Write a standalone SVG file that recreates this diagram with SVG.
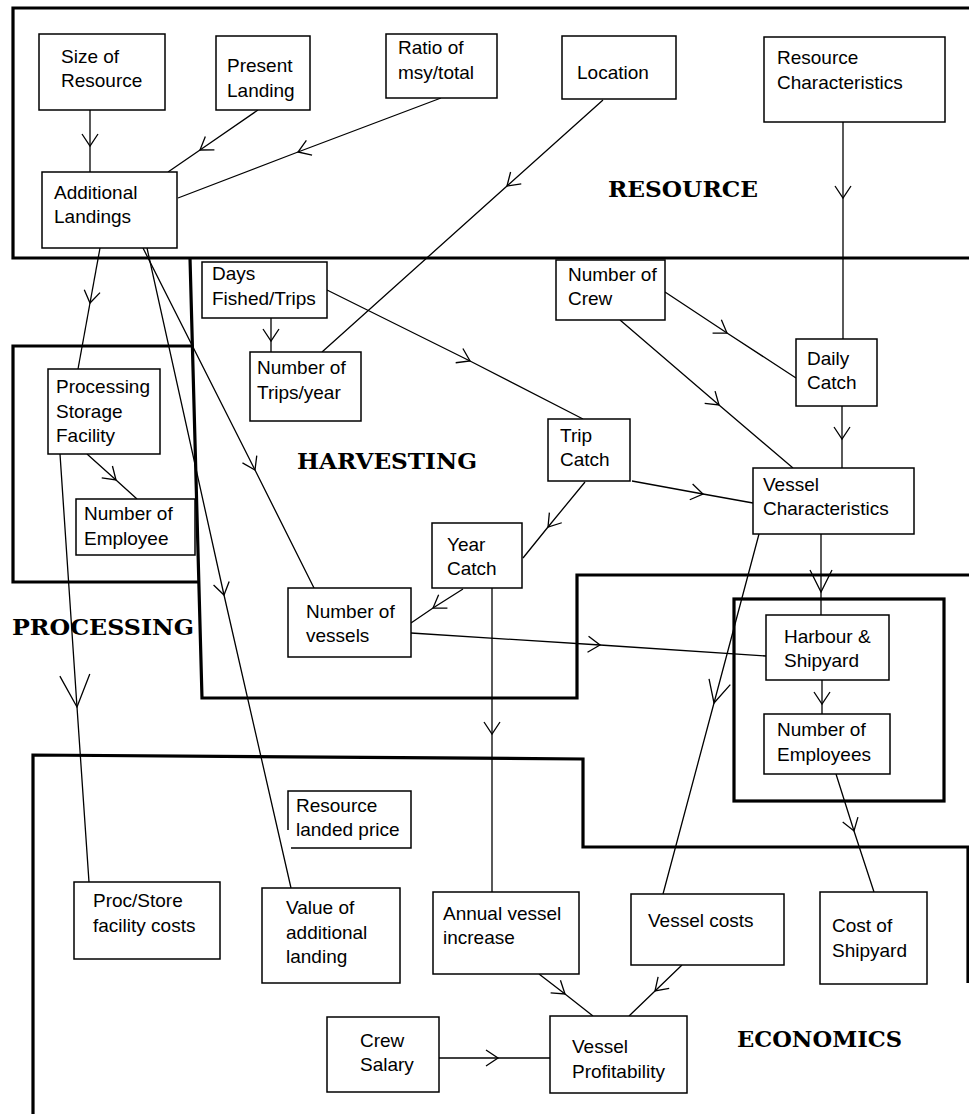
<svg xmlns="http://www.w3.org/2000/svg" width="969" height="1114" viewBox="0 0 969 1114">
<style>
.box{fill:#fff;stroke:#000;stroke-width:1.5}
.t{font-family:"Liberation Sans",Arial,sans-serif;font-size:19px;fill:#000}
.region{fill:none;stroke:#000;stroke-width:3.2}
.lbl{font-family:"DejaVu Serif","Liberation Serif",serif;font-weight:bold;font-size:23px;fill:#000}
.c{fill:none;stroke:#000;stroke-width:1.3;marker-mid:url(#arr)}
.cm{fill:none;stroke:#000;stroke-width:1.3;marker-mid:url(#arrMed)}
.cb{fill:none;stroke:#000;stroke-width:1.3;marker-mid:url(#arrBig)}
</style>
<defs>
<marker id="arr" markerUnits="userSpaceOnUse" orient="auto" markerWidth="40" markerHeight="40" refX="0" refY="0" viewBox="-20 -20 40 40" overflow="visible"><path d="M-12,-8 L0,0 L-12,8" fill="none" stroke="#000" stroke-width="1.3"/></marker>
<marker id="arrMed" markerUnits="userSpaceOnUse" orient="auto" markerWidth="60" markerHeight="60" refX="0" refY="0" viewBox="-30 -30 60 60" overflow="visible"><path d="M-22,-11 L0,0 L-22,11" fill="none" stroke="#000" stroke-width="1.3"/></marker>
<marker id="arrBig" markerUnits="userSpaceOnUse" orient="auto" markerWidth="80" markerHeight="80" refX="0" refY="0" viewBox="-40 -40 80 80" overflow="visible"><path d="M-32,-15 L0,0 L-32,15" fill="none" stroke="#000" stroke-width="1.3"/></marker>
</defs>
<rect width="969" height="1114" fill="#fff"/>

<g id="regions">
<path class="region" d="M972,8 H13 V258 H972"/>
<path class="region" d="M190,258 L202,698 H577 V575 H972"/>
<path class="region" d="M192,346 H13 V582 H199"/>
<rect class="region" x="734" y="599" width="210" height="202"/>
<path class="region" d="M968,983 V847 H583 V759 L33,755 V1116"/>
<text class="lbl" x="608" y="197" textLength="150" lengthAdjust="spacingAndGlyphs">RESOURCE</text>
<text class="lbl" x="297" y="469" textLength="180" lengthAdjust="spacingAndGlyphs">HARVESTING</text>
<text class="lbl" x="12" y="635" textLength="182" lengthAdjust="spacingAndGlyphs">PROCESSING</text>
<text class="lbl" x="737" y="1047" textLength="165" lengthAdjust="spacingAndGlyphs">ECONOMICS</text>
</g>

<g id="connectors">
<path class="c" d="M90,110 L90,146 L90,172"/>
<path class="c" d="M258,110 L200,150 L168,172"/>
<path class="c" d="M441,98 L298,152 L178,198"/>
<path class="c" d="M603,100 L507,186 L322,352"/>
<path class="c" d="M843,122 L843,198 L843,339"/>
<path class="c" d="M100,248 L90,303 L78,369"/>
<path class="c" d="M143,248 L255,470 L315,590"/>
<path class="c" d="M147,248 L224,595 L291,888"/>
<path class="c" d="M271,318 L271,341 L271,352"/>
<path class="c" d="M327,290 L470,361 L583,419"/>
<path class="c" d="M87,454 L116,480 L137,499"/>
<path class="cb" d="M60,454 L77,707 L89,882"/>
<path class="c" d="M665,292 L727,333 L796,378"/>
<path class="c" d="M620,320 L719,405 L793,468"/>
<path class="c" d="M842,406 L842,439 L842,468"/>
<path class="c" d="M632,481 L703,494 L753,503"/>
<path class="c" d="M585,482 L548,527 L523,558"/>
<path class="c" d="M463,589 L433,608 L411,623"/>
<path class="c" d="M411,633 L600,645 L766,656"/>
<path class="c" d="M492,588 L492,734 L492,892"/>
<path class="cm" d="M821,534 L821,592 L821,615"/>
<path class="cm" d="M759,534 L714,703 L663,894"/>
<path class="c" d="M822,680 L822,704 L822,714"/>
<path class="c" d="M836,774 L854,831 L874,892"/>
<path class="c" d="M539,974 L565,994 L593,1016"/>
<path class="c" d="M682,965 L655,991 L629,1016"/>
<path class="c" d="M439,1058 L498,1058 L550,1058"/>
</g>

<g id="size-of-resource"><rect class="box" x="39" y="34" width="126" height="76"/><text class="t"><tspan x="61" y="63">Size of</tspan><tspan x="61" y="87">Resource</tspan></text></g>
<g id="present-landing"><rect class="box" x="216" y="36" width="94" height="74"/><text class="t"><tspan x="227" y="72">Present</tspan><tspan x="227" y="97">Landing</tspan></text></g>
<g id="ratio-msy"><rect class="box" x="386" y="34" width="111" height="64"/><text class="t"><tspan x="398" y="54">Ratio of</tspan><tspan x="398" y="79">msy/total</tspan></text></g>
<g id="location"><rect class="box" x="562" y="36" width="114" height="63"/><text class="t" x="577" y="79">Location</text></g>
<g id="resource-characteristics"><rect class="box" x="764" y="37" width="181" height="85"/><text class="t"><tspan x="777" y="64">Resource</tspan><tspan x="777" y="89">Characteristics</tspan></text></g>
<g id="additional-landings"><rect class="box" x="42" y="172" width="135" height="76"/><text class="t"><tspan x="54" y="199">Additional</tspan><tspan x="54" y="223">Landings</tspan></text></g>
<g id="days-fished"><rect class="box" x="202" y="262" width="125" height="56"/><text class="t"><tspan x="212" y="280">Days</tspan><tspan x="212" y="305">Fished/Trips</tspan></text></g>
<g id="number-of-crew"><rect class="box" x="556" y="260" width="109" height="60"/><text class="t"><tspan x="568" y="281">Number of</tspan><tspan x="568" y="305">Crew</tspan></text></g>
<g id="number-of-trips"><rect class="box" x="250" y="352" width="111" height="69"/><text class="t"><tspan x="257" y="374">Number of</tspan><tspan x="257" y="399">Trips/year</tspan></text></g>
<g id="daily-catch"><rect class="box" x="796" y="339" width="81" height="67"/><text class="t"><tspan x="807" y="365">Daily</tspan><tspan x="807" y="389">Catch</tspan></text></g>
<g id="processing-storage"><rect class="box" x="48" y="369" width="112" height="85"/><text class="t"><tspan x="56" y="393">Processing</tspan><tspan x="56" y="418">Storage</tspan><tspan x="56" y="442">Facility</tspan></text></g>
<g id="trip-catch"><rect class="box" x="548" y="419" width="82" height="62"/><text class="t"><tspan x="560" y="442">Trip</tspan><tspan x="560" y="466">Catch</tspan></text></g>
<g id="vessel-characteristics"><rect class="box" x="753" y="468" width="161" height="66"/><text class="t"><tspan x="763" y="491">Vessel</tspan><tspan x="763" y="515">Characteristics</tspan></text></g>
<g id="number-of-employee"><rect class="box" x="76" y="499" width="119" height="56"/><text class="t"><tspan x="84" y="520">Number of</tspan><tspan x="84" y="545">Employee</tspan></text></g>
<g id="year-catch"><rect class="box" x="432" y="523" width="90" height="65"/><text class="t"><tspan x="447" y="551">Year</tspan><tspan x="447" y="575">Catch</tspan></text></g>
<g id="number-of-vessels"><rect class="box" x="288" y="588" width="123" height="69"/><text class="t"><tspan x="306" y="618">Number of</tspan><tspan x="306" y="642">vessels</tspan></text></g>
<g id="harbour-shipyard"><rect class="box" x="766" y="615" width="123" height="65"/><text class="t"><tspan x="784" y="643">Harbour &amp;</tspan><tspan x="784" y="667">Shipyard</tspan></text></g>
<g id="number-of-employees"><rect class="box" x="764" y="714" width="126" height="60"/><text class="t"><tspan x="777" y="736">Number of</tspan><tspan x="777" y="761">Employees</tspan></text></g>
<g id="resource-landed-price"><path d="M291,848 H411 V791 H288 V830" fill="none" stroke="#000" stroke-width="1.5"/><text class="t"><tspan x="296" y="812">Resource</tspan><tspan x="296" y="836">landed price</tspan></text></g>
<g id="proc-store-costs"><rect class="box" x="74" y="882" width="146" height="77"/><text class="t"><tspan x="93" y="907">Proc/Store</tspan><tspan x="93" y="932">facility costs</tspan></text></g>
<g id="value-additional-landing"><rect class="box" x="262" y="888" width="138" height="95"/><text class="t"><tspan x="286" y="914">Value of</tspan><tspan x="286" y="939">additional</tspan><tspan x="286" y="963">landing</tspan></text></g>
<g id="annual-vessel-increase"><rect class="box" x="433" y="892" width="146" height="82"/><text class="t"><tspan x="443" y="920">Annual vessel</tspan><tspan x="443" y="944">increase</tspan></text></g>
<g id="vessel-costs"><rect class="box" x="631" y="894" width="153" height="71"/><text class="t" x="648" y="927">Vessel costs</text></g>
<g id="cost-of-shipyard"><rect class="box" x="820" y="892" width="107" height="92"/><text class="t"><tspan x="832" y="932">Cost of</tspan><tspan x="832" y="957">Shipyard</tspan></text></g>
<g id="crew-salary"><rect class="box" x="327" y="1017" width="112" height="75"/><text class="t"><tspan x="360" y="1047">Crew</tspan><tspan x="360" y="1071">Salary</tspan></text></g>
<g id="vessel-profitability"><rect class="box" x="550" y="1016" width="137" height="77"/><text class="t"><tspan x="572" y="1053">Vessel</tspan><tspan x="572" y="1078">Profitability</tspan></text></g>
</svg>
